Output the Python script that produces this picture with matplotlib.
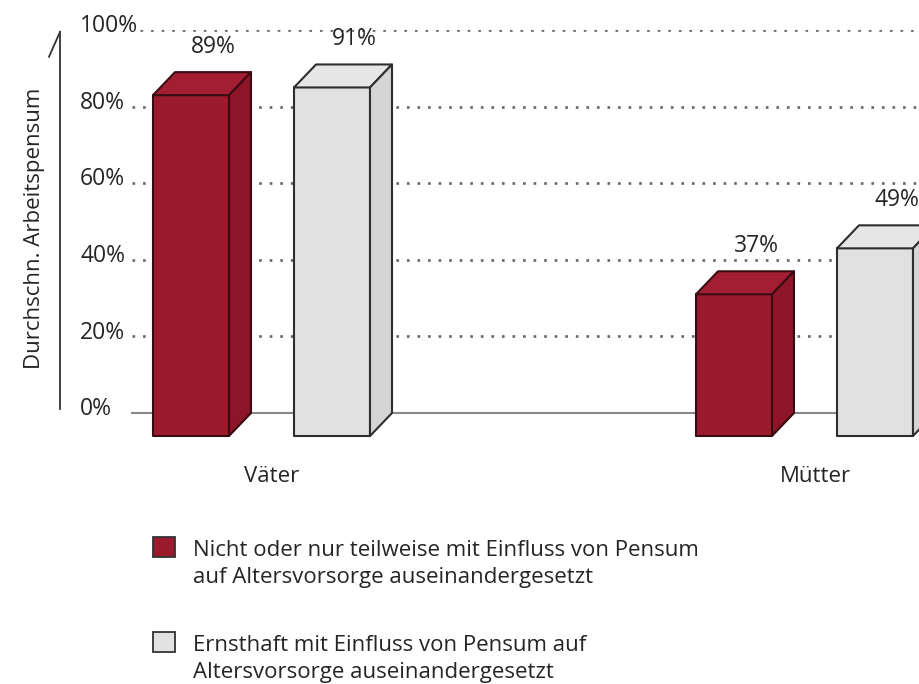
import matplotlib.pyplot as plt
from matplotlib.patches import Polygon, Rectangle

plt.rcParams['font.family'] = ['Open Sans', 'DejaVu Sans']

# data
groups = ['Väter', 'Mütter']
nicht = [89, 37]        # nicht oder nur teilweise auseinandergesetzt
ernsthaft = [91, 49]    # ernsthaft auseinandergesetzt
labels = ['Nicht oder nur teilweise mit Einfluss von Pensum\nauf Altersvorsorge auseinandergesetzt',
          'Ernsthaft mit Einfluss von Pensum auf\nAltersvorsorge auseinandergesetzt']
yticks = [0, 20, 40, 60, 80, 100]

red = ('#9c1a2e', '#a31e33', '#8c1628', '#3a0c12')   # front, top, side, edge
grey = ('#e1e1e1', '#e6e6e6', '#d5d5d5', '#2e2e2e')
txt = '#252525'

W, H = 920, 684
fig = plt.figure(figsize=(W / 100, H / 100), dpi=100)

# y: 0% at pixel row 413, 100% at row 30
ppp = (413 - 30) / 100.0
ymin = -8
bot = 413 - ymin * ppp
ax = fig.add_axes([0, (H - bot) / H, 1, (bot - 30) / H])
ax.set_ylim(ymin, 100)
# x: groups at pixel 272 and 815
unit = 815 - 272
ax.set_xlim(-272 / unit, (W - 272) / unit)
ax.axis('off')

w = 76 / unit           # bar width
dx = 22 / unit          # depth in x
dy = 23 / ppp           # depth in y
offs = [-119 / unit, 22 / unit]


def bar3d(x, v, col):
    front, top, side, edge = col
    kw = dict(ec=edge, lw=1.5, zorder=3, joinstyle='round')
    ax.add_patch(Polygon([(x, -dy), (x + w, -dy), (x + w, v - dy), (x, v - dy)], fc=front, **kw))
    ax.add_patch(Polygon([(x, v - dy), (x + w, v - dy), (x + w + dx, v), (x + dx, v)], fc=top, **kw))
    ax.add_patch(Polygon([(x + w, -dy), (x + w + dx, 0), (x + w + dx, v), (x + w, v - dy)], fc=side, **kw))
    ax.annotate(f'{v}%', xy=(x + dx + w / 2, v), xytext=(0, 18), textcoords='offset points',
                ha='center', va='center', fontsize=16.5, color=txt)


# grid
xr = ax.get_xlim()[1]
for t in yticks[1:]:
    gx = (-132 if t == 100 else -140) / unit
    ax.plot([gx, xr], [t, t], ls=(0, (1, 3)), lw=1.9, color='#666666', zorder=1)
ax.plot([-140 / unit, xr], [0, 0], lw=1.5, color='#888888', zorder=1)
for t in yticks:
    ax.text(-192 / unit, t - 0.6, f'{t}%', ha='left', va='baseline', fontsize=16.5, color=txt)

# axis arrow
ax.plot([-212 / unit, -212 / unit], [1, 99.5], color='#333333', lw=1.3, clip_on=False)
ax.plot([-223 / unit, -212 / unit], [93, 99.5], color='#333333', lw=1.3, clip_on=False)
fig.text(35 / W, 1 - 228 / H, 'Durchschn. Arbeitspensum', rotation=90, ha='center', va='center',
         fontsize=16, color=txt)

for i, g in enumerate(groups):
    bar3d(i + offs[0], nicht[i], red)
    bar3d(i + offs[1], ernsthaft[i], grey)
    ax.text(i, (413 - 477) / ppp, g, ha='center', va='center', fontsize=16, color=txt)

# legend
for k, (lab, col, top) in enumerate(zip(labels, [red, grey], [537, 632])):
    fig.add_artist(Rectangle((153 / W, 1 - (top + 20) / H), 22 / W, 20 / H, transform=fig.transFigure,
                             fc=col[0], ec='#333333', lw=1.3))
    fig.text(193 / W, 1 - (top + 3) / H, lab, ha='left', va='top', fontsize=16, linespacing=1.35,
             color=txt)

fig.savefig('out.png', dpi=100)
